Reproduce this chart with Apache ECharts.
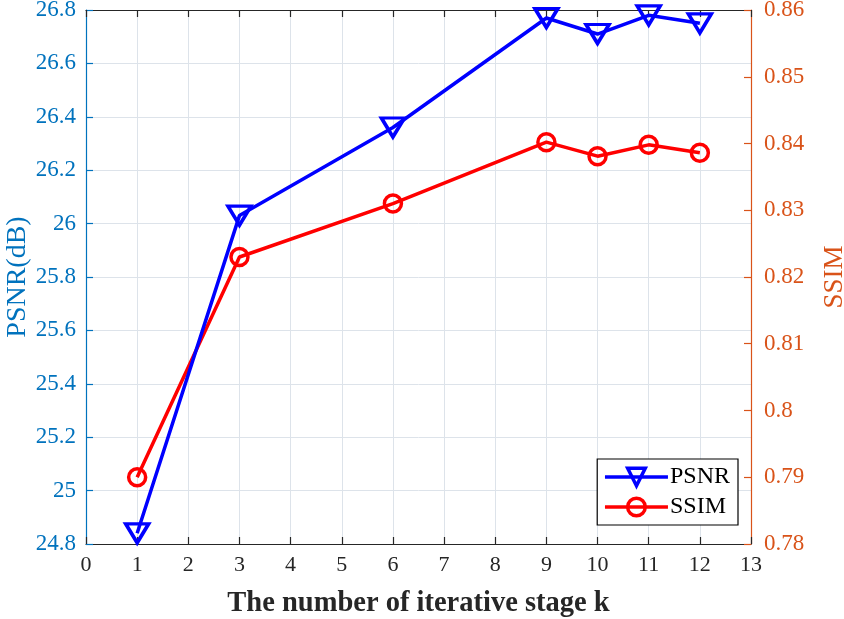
<!DOCTYPE html>
<html><head><meta charset="utf-8">
<script src="https://cdn.jsdelivr.net/npm/echarts@6/dist/echarts.min.js"></script>
<style>html,body{margin:0;padding:0;background:#fff}#c{width:844px;height:619px}</style>
</head><body><div id="c"></div>
<script>
const stages = [1, 3, 6, 9, 10, 11, 12];
const psnr = [24.84, 26.03, 26.36, 26.77, 26.71, 26.78, 26.75];
const ssim = [0.790, 0.823, 0.831, 0.8402, 0.8381, 0.8398, 0.8386];
const xTicks = [0,1,2,3,4,5,6,7,8,9,10,11,12,13];
const psnrTicks = [24.8,25,25.2,25.4,25.6,25.8,26,26.2,26.4,26.6,26.8];
const ssimTicks = [0.78,0.79,0.80,0.81,0.82,0.83,0.84,0.85,0.86];

const font = 'Liberation Serif';
const blue = '#0072BD', orange = '#D95319';
const chart = echarts.init(document.getElementById('c'));
chart.setOption({
  animation: false,
  textStyle: {fontFamily: font},
  grid: {left: 86, right: 93, top: 10, bottom: 75, containLabel: false, outerBoundsMode: 'none'},
  legend: {
    right: 106, top: 459, orient: 'vertical',
    backgroundColor: '#fff', borderColor: '#000', borderWidth: 1.2, borderRadius: 0,
    padding: [6, 8, 6, 6], itemGap: 6, itemWidth: 63, itemHeight: 22,
    lineStyle: {width: 3.5},
    itemStyle: {borderWidth: 3.5},
    textStyle: {fontFamily: font, fontSize: 24, color: '#000', padding: [0, 0, 0, -3]},
    data: ['PSNR', 'SSIM']
  },
  xAxis: [{
    type: 'value', min: 0, max: 13, interval: 1,
    axisLine: {onZero: false, lineStyle: {color: '#262626', width: 1.2}},
    axisTick: {inside: true, length: 7, lineStyle: {color: '#262626', width: 1.2}},
    axisLabel: {fontFamily: font, fontSize: 22, color: '#262626', margin: 10,
      formatter: v => String(xTicks[v] !== undefined ? xTicks[v] : v)},
    splitLine: {show: true, lineStyle: {color: '#dde3ea', width: 1}},
    name: 'The number of iterative stage k', nameLocation: 'middle', nameGap: 45, nameMoveOverlap: false,
    nameTextStyle: {fontFamily: font, fontSize: 28.5, fontWeight: 'bold', color: '#262626'}
  }, {
    type: 'value', min: 0, max: 13, interval: 1, position: 'top',
    axisLine: {show: true, onZero: false, lineStyle: {color: '#262626', width: 1.2}},
    axisTick: {show: true, inside: true, length: 7, lineStyle: {color: '#262626', width: 1.2}},
    axisLabel: {show: false}, splitLine: {show: false}
  }],
  yAxis: [{
    type: 'value', min: 24.8, max: 26.8, interval: 0.2, position: 'left',
    axisLine: {show: true, onZero: false, lineStyle: {color: blue, width: 1.2}},
    axisTick: {show: true, inside: true, length: 7, lineStyle: {color: blue, width: 1.2}},
    axisLabel: {fontFamily: font, fontSize: 23, color: blue, margin: 10,
      formatter: v => String(parseFloat(v.toFixed(1)))},
    splitLine: {show: true, lineStyle: {color: '#dde3ea', width: 1}},
    name: 'PSNR(dB)', nameLocation: 'middle', nameGap: 54, nameRotate: 90, nameMoveOverlap: false,
    nameTextStyle: {fontFamily: font, fontSize: 28, color: blue}
  }, {
    type: 'value', min: 0.78, max: 0.86, interval: 0.01, position: 'right',
    axisLine: {show: true, onZero: false, lineStyle: {color: orange, width: 1.2}},
    axisTick: {show: true, inside: true, length: 7, lineStyle: {color: orange, width: 1.2}},
    axisLabel: {fontFamily: font, fontSize: 23, color: orange, margin: 13,
      formatter: v => String(parseFloat(v.toFixed(2)))},
    splitLine: {show: false},
    name: 'SSIM', nameLocation: 'middle', nameGap: 70, nameRotate: 90, nameMoveOverlap: false,
    nameTextStyle: {fontFamily: font, fontSize: 27, color: orange}
  }],
  series: [{
    name: 'PSNR', type: 'line', xAxisIndex: 0, yAxisIndex: 0,
    data: stages.map((s, i) => [s, psnr[i]]),
    symbol: 'triangle', symbolRotate: 180, symbolSize: [23, 19],
    lineStyle: {color: '#0000FF', width: 3.5},
    itemStyle: {color: 'rgba(255,255,255,0)', borderColor: '#0000FF', borderWidth: 3.5},
    z: 3
  }, {
    name: 'SSIM', type: 'line', xAxisIndex: 0, yAxisIndex: 1,
    data: stages.map((s, i) => [s, ssim[i]]),
    symbol: 'circle', symbolSize: 17,
    lineStyle: {color: '#FF0000', width: 3.5},
    itemStyle: {color: 'rgba(255,255,255,0)', borderColor: '#FF0000', borderWidth: 3.5},
    z: 2
  }]
});
</script></body></html>
